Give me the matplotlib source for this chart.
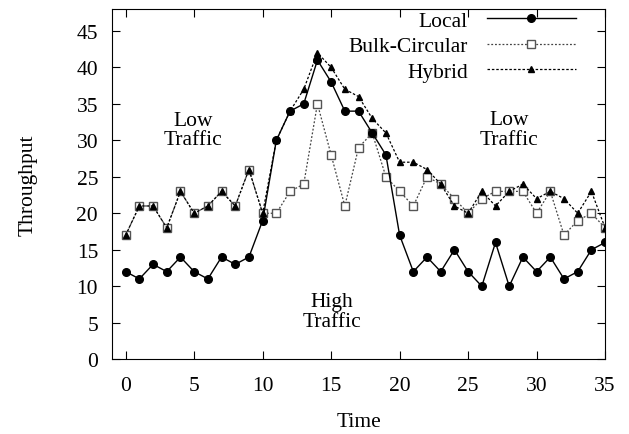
import matplotlib
matplotlib.use("Agg")
import matplotlib.pyplot as plt

plt.rcParams["font.family"] = ["Liberation Serif", "DejaVu Serif"]

time = list(range(36))
local = [12, 11, 13, 12, 14, 12, 11, 14, 13, 14, 19, 30, 34, 35, 41, 38, 34, 34,
         31, 28, 17, 12, 14, 12, 15, 12, 10, 16, 10, 14, 12, 14, 11, 12, 15, 16]
bulk_circular = [17, 21, 21, 18, 23, 20, 21, 23, 21, 26, 20, 20, 23, 24, 35, 28, 21, 29,
                 31, 25, 23, 21, 25, 24, 22, 20, 22, 23, 23, 23, 20, 23, 17, 19, 20, 18]
hybrid = [17, 21, 21, 18, 23, 20, 21, 23, 21, 26, 20, 30, 34, 37, 42, 40, 37, 36,
          33, 31, 27, 27, 26, 24, 21, 20, 23, 21, 23, 24, 22, 23, 22, 20, 23, 18]

FS = 15.5

fig = plt.figure(figsize=(6.29, 4.35), dpi=100)
ax = fig.add_axes([0.178, 0.172, 0.784, 0.805])

ax.plot(time, local, color="black", linewidth=1.0, marker="o", markersize=5.5,
        label="Local", zorder=3)
ax.plot(time, bulk_circular, color="#444444", linewidth=0.9, linestyle=(0, (1.5, 1.5)),
        marker="s", markersize=5.5, markerfacecolor="white", markeredgecolor="#555555",
        markeredgewidth=1.0, label="Bulk-Circular", zorder=2)
ax.plot(time, hybrid, color="black", linewidth=0.9, linestyle=(0, (2, 1.5)),
        marker="^", markersize=5, label="Hybrid", zorder=4)

ax.set_xlim(-1, 35)
ax.set_ylim(0, 48)
ax.set_xticks(range(0, 36, 5))
ax.set_yticks(range(0, 46, 5))
ax.tick_params(direction="in", top=True, right=True, length=6, labelsize=FS, pad=10)
ax.tick_params(axis="x", pad=12)
ax.set_xlabel("Time", fontsize=FS, labelpad=12)
ax.set_ylabel("Throughput", fontsize=FS, labelpad=28)

ax.text(4.9, 31.4, "Low\nTraffic", ha="center", va="center", fontsize=FS, linespacing=1.05)
ax.text(28.0, 31.5, "Low\nTraffic", ha="center", va="center", fontsize=FS, linespacing=1.05)
ax.text(15.05, 6.5, "High\nTraffic", ha="center", va="center", fontsize=FS, linespacing=1.05)

ax.legend(loc="upper right", bbox_to_anchor=(0.94, 0.995), frameon=False, markerfirst=False,
          fontsize=FS, handlelength=4.1, labelspacing=0.25, borderpad=0,
          borderaxespad=0, handletextpad=0.9)

fig.savefig("out.png", dpi=100)
